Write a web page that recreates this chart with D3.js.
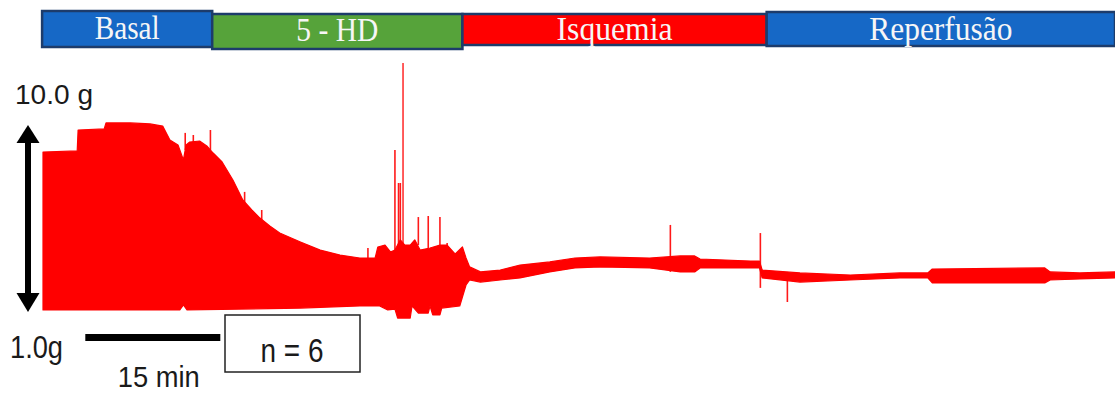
<!DOCTYPE html>
<html>
<head>
<meta charset="utf-8">
<script src="https://cdn.jsdelivr.net/npm/d3@7"></script>
<style>
  html, body { margin: 0; padding: 0; background: #fff; }
  svg { display: block; }
</style>
</head>
<body>
<svg id="chart" width="1115" height="394"></svg>
<script>
// Experimental phases (minutes from start of recording)
const phaseNames = ["Basal", "5 - HD", "Isquemia", "Reperfusão"];
const phaseStart = [-0.1, 18.8, 46.6, 80.4];
const phaseEnd   = [18.8, 46.6, 80.4, 119.1];

// Upper envelope of the contraction trace (min, g)
const upperTime = [0, 3.8, 3.9, 6.8, 7.0, 9.7, 11.9, 13.3, 14.1, 15.0,
  15.6, 15.9, 16.3, 17.4, 18.2, 18.9, 19.9, 21.1, 22.2, 23.2,
  24.1, 25.2, 26.3, 28.6, 30.8, 33.0, 35.2, 36.9, 37.2, 38.0,
  38.6, 39.1, 39.7, 40.2, 40.8, 41.3, 41.9, 43.0, 44.1, 44.9,
  45.8, 46.6, 47.0, 47.4, 48.6, 50.8, 53.0, 56.3, 59.1, 61.9,
  67.4, 70.8, 72.4, 73.0, 78.6, 79.6, 79.9, 84.1, 89.7, 95.2,
  98.3, 98.8, 111.3, 111.9, 115.2, 119.1];
const upperForce = [8.70, 8.75, 9.76, 9.81, 10.10, 10.10, 10.05, 9.95, 9.28, 9.04,
  8.32, 9.04, 9.18, 9.23, 8.99, 8.65, 8.22, 7.35, 6.39, 5.91,
  5.52, 5.14, 4.80, 4.37, 3.98, 3.74, 3.60, 3.60, 4.13, 4.22,
  3.89, 3.98, 4.47, 4.22, 4.22, 4.47, 3.98, 4.08, 4.22, 4.22,
  3.79, 4.13, 3.60, 3.17, 2.93, 3.02, 3.26, 3.41, 3.60, 3.65,
  3.60, 3.70, 3.70, 3.55, 3.45, 3.45, 3.02, 2.88, 2.78, 2.88,
  2.88, 3.07, 3.12, 2.93, 2.88, 2.93];

// Lower envelope of the contraction trace (min, g)
const lowerTime = [0, 15.2, 15.6, 16.0, 28.6, 35.2, 37.4, 38.3, 39.1, 39.4,
  40.8, 41.0, 41.7, 42.8, 43.0, 43.3, 44.1, 44.3, 46.3, 46.6,
  47.0, 47.4, 48.6, 50.8, 53.0, 56.3, 59.1, 61.9, 67.4, 70.8,
  72.4, 73.0, 78.6, 79.6, 79.9, 84.1, 89.7, 95.2, 98.3, 98.8,
  111.3, 111.9, 115.2, 119.1];
const lowerForce = [1.10, 1.10, 1.34, 1.10, 1.19, 1.29, 1.29, 1.10, 1.14, 0.71,
  0.71, 1.29, 0.95, 0.95, 1.29, 0.86, 0.86, 1.19, 1.29, 1.72,
  2.30, 2.54, 2.44, 2.54, 2.64, 2.93, 3.12, 3.17, 3.12, 2.93,
  2.93, 3.12, 3.12, 3.12, 2.64, 2.44, 2.54, 2.64, 2.64, 2.40,
  2.40, 2.54, 2.59, 2.64];

// Isolated transients (min, peak g, trough g)
const spikeTime   = [15.8, 16.7, 18.6, 22.4, 24.3, 36.1, 39.1, 39.5, 39.7, 40.0, 41.7, 42.8, 44.1, 44.9, 69.7, 79.7, 82.7];
const spikeTop    = [9.62, 9.52, 9.76, 6.78, 5.91, 4.08, 8.80, 7.21, 7.21, 12.98, 5.57, 5.62, 5.57, 4.32, 5.19, 4.80, 2.93];
const spikeBottom = [8.80, 9.18, 8.80, 6.20, 5.43, 3.60, 3.98, 4.22, 4.22, 4.22, 4.22, 4.08, 4.22, 4.22, 2.93, 2.16, 1.48];

// Calibration marks
const forceScale = [1.0, 10.0];
const forceLabels = ["1.0g", "10.0 g"];
const timeBarStart = 4.7;
const timeBarLength = 15;
const timeBarLabel = "15 min";
const sampleLabel = "n = 6";

// ---- styling ----
const phaseFill = ["#1668c6", "#56a33a", "#ff0000", "#1668c6"];
const phaseBoxY = [[11, 47], [14, 49], [14, 45], [12, 46]];
const phaseBaseline = [39, 41, 40, 40];
const phaseTextWidth = [65, 82, 116, 143];
const traceRed = "#ff0000";

const svg = d3.select("#chart");

const x = d3.scaleLinear().domain([0, 119.1]).range([43, 1115]);
const y = d3.scaleLinear().domain(forceScale).range([312, 125]);

// Phase header
const header = svg.append("g");
phaseNames.forEach((name, i) => {
  const x0 = x(phaseStart[i]), x1 = Math.min(x(phaseEnd[i]), 1116);
  const [y0, y1] = phaseBoxY[i];
  header.append("rect")
    .attr("x", x0).attr("y", y0)
    .attr("width", x1 - x0).attr("height", y1 - y0)
    .attr("fill", phaseFill[i])
    .attr("stroke", "#1d3c6b").attr("stroke-width", 2.5);
  header.append("text")
    .attr("x", (x0 + Math.min(x1, 1115)) / 2)
    .attr("y", phaseBaseline[i])
    .attr("text-anchor", "middle")
    .attr("font-family", "'Liberation Serif', 'DejaVu Serif', serif")
    .attr("font-size", 34)
    .attr("fill", "#f6f6f6")
    .attr("textLength", phaseTextWidth[i])
    .attr("lengthAdjust", "spacingAndGlyphs")
    .text(name);
});

// Trace envelope
const upper = upperTime.map((t, i) => [t, upperForce[i]]);
const lower = lowerTime.map((t, i) => [t, lowerForce[i]]);
const outline = d3.line().x(d => x(d[0])).y(d => y(d[1]));
svg.append("path")
  .attr("d", outline(upper.concat(lower.slice().reverse())) + "Z")
  .attr("fill", traceRed)
  .attr("stroke", traceRed)
  .attr("stroke-width", 1.2)
  .attr("stroke-linejoin", "round");

// Transients
svg.append("g").selectAll("line")
  .data(spikeTime.map((t, i) => ({ t, top: spikeTop[i], bottom: spikeBottom[i] })))
  .join("line")
  .attr("x1", d => x(d.t)).attr("x2", d => x(d.t))
  .attr("y1", d => y(d.top)).attr("y2", d => y(d.bottom))
  .attr("stroke", traceRed)
  .attr("stroke-opacity", d => d.top > 11 ? 0.8 : 0.9)
  .attr("stroke-width", 1.6);

// Force calibration arrow
const ax = 28;
const yTop = y(forceScale[1]), yBot = y(forceScale[0]);
svg.append("rect")
  .attr("x", ax - 3).attr("y", yTop + 12)
  .attr("width", 6).attr("height", yBot - yTop - 24)
  .attr("fill", "#000");
svg.append("path")
  .attr("d", `M${ax},${yTop} L${ax + 11.5},${yTop + 18} L${ax - 11.5},${yTop + 18} Z`)
  .attr("fill", "#000");
svg.append("path")
  .attr("d", `M${ax},${yBot} L${ax + 11.5},${yBot - 19} L${ax - 11.5},${yBot - 19} Z`)
  .attr("fill", "#000");

const sansFont = "'Liberation Sans', Arial, sans-serif";
svg.append("text")
  .attr("x", 15).attr("y", 104)
  .attr("font-family", sansFont).attr("font-size", 27).attr("fill", "#1a1a1a")
  .attr("textLength", 78).attr("lengthAdjust", "spacingAndGlyphs")
  .text(forceLabels[1]);
svg.append("text")
  .attr("x", 10).attr("y", 358)
  .attr("font-family", sansFont).attr("font-size", 31).attr("fill", "#1a1a1a")
  .attr("textLength", 53).attr("lengthAdjust", "spacingAndGlyphs")
  .text(forceLabels[0]);

// Time calibration bar
const bx0 = x(timeBarStart), bx1 = x(timeBarStart + timeBarLength);
svg.append("rect")
  .attr("x", bx0).attr("y", 334)
  .attr("width", bx1 - bx0).attr("height", 7)
  .attr("fill", "#000");
svg.append("text")
  .attr("x", (bx0 + bx1) / 2 + 6).attr("y", 387)
  .attr("text-anchor", "middle")
  .attr("font-family", sansFont).attr("font-size", 30).attr("fill", "#1a1a1a")
  .attr("textLength", 82).attr("lengthAdjust", "spacingAndGlyphs")
  .text(timeBarLabel);

// Sample size box
svg.append("rect")
  .attr("x", 225).attr("y", 315)
  .attr("width", 135).attr("height", 57)
  .attr("fill", "#fff")
  .attr("stroke", "#222").attr("stroke-width", 1.5);
svg.append("text")
  .attr("x", 292).attr("y", 362)
  .attr("text-anchor", "middle")
  .attr("font-family", sansFont).attr("font-size", 34).attr("fill", "#1a1a1a")
  .attr("textLength", 63).attr("lengthAdjust", "spacingAndGlyphs")
  .text(sampleLabel);
</script>
</body>
</html>
